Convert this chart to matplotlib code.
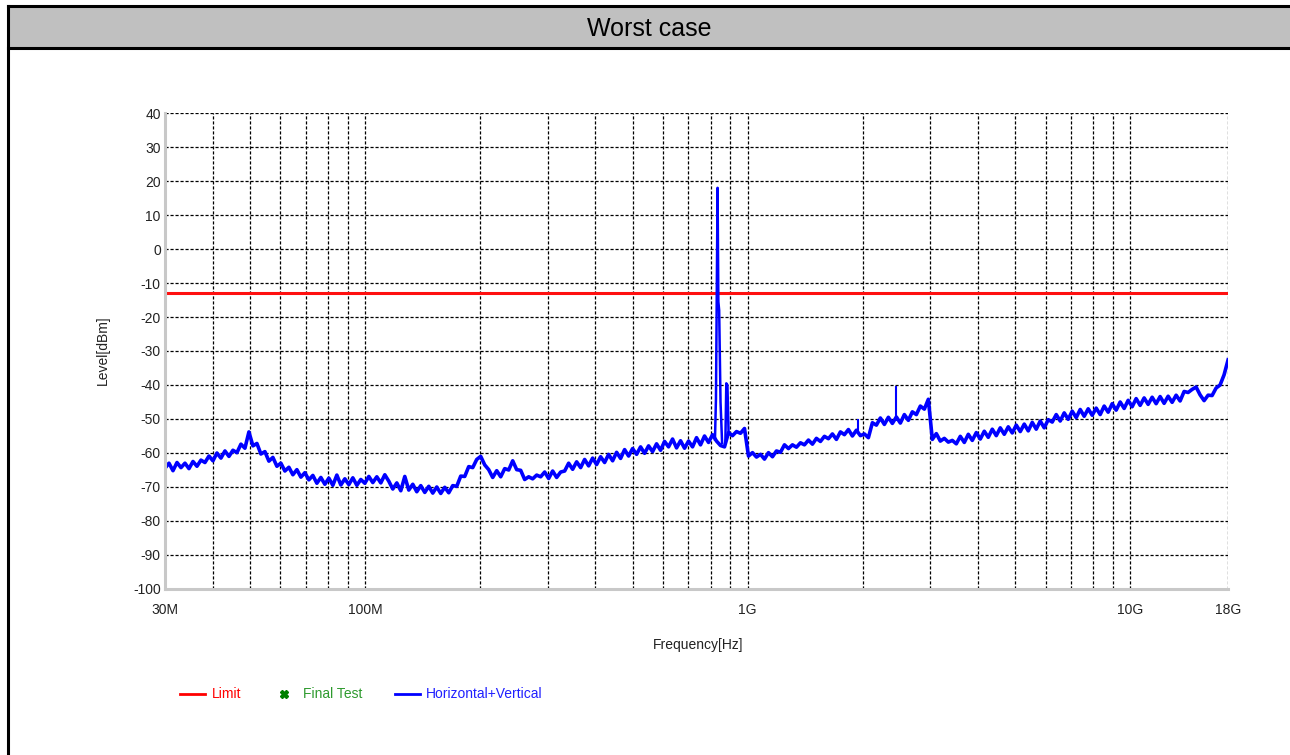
import numpy as np
import matplotlib
matplotlib.use("Agg")
import matplotlib.pyplot as plt
from matplotlib.lines import Line2D
from matplotlib.patches import Rectangle

plt.rcParams["font.family"] = ["Liberation Sans", "DejaVu Sans"]
plt.rcParams["axes.unicode_minus"] = False

title = "Worst case"
x_label = "Frequency[Hz]"
y_label = "Level[dBm]"

f_start = 30e6
f_stop = 18e9
limit_level = -13.0

# measured trace (Horizontal+Vertical), one value per sweep point, log spaced 30M..18G
levels = [
    -64.5, -63.0, -65.2, -62.8, -64.3, -63.0, -64.6, -62.5, -63.9, -62.1,
    -62.8, -60.9, -62.3, -60.0, -61.5, -59.4, -61.0, -59.2, -59.9, -57.4,
    -58.6, -53.8, -57.9, -57.2, -60.3, -59.6, -62.4, -61.3, -63.9, -63.0,
    -65.3, -64.2, -66.4, -64.9, -67.1, -65.8, -67.9, -66.6, -68.9, -67.2,
    -69.2, -67.4, -69.5, -66.5, -69.4, -67.6, -69.3, -67.3, -69.5, -67.8,
    -68.9, -66.9, -68.7, -67.0, -68.8, -66.4, -68.3, -70.6, -68.8, -71.1,
    -66.9, -70.9, -69.2, -71.4, -69.6, -71.6, -69.8, -71.8, -70.0, -71.9,
    -70.1, -71.7, -69.6, -69.8, -66.8, -66.9, -64.0, -64.3, -61.9, -61.0,
    -63.5, -64.9, -67.2, -65.2, -67.0, -64.6, -65.0, -62.3, -64.9, -65.1,
    -67.8, -67.0, -67.6, -66.5, -67.0, -65.6, -67.5, -65.3, -67.2, -65.6,
    -65.3, -63.0, -64.8, -62.6, -64.3, -61.9, -63.8, -61.5, -63.4, -61.1,
    -62.8, -60.4, -62.3, -59.8, -61.6, -59.0, -60.9, -58.7, -60.4, -58.2,
    -60.1, -57.9, -59.6, -57.3, -59.2, -56.6, -58.2, -55.9, -58.5, -56.4,
    -58.6, -56.5, -58.2, -55.5, -57.6, -55.0, -56.9, -54.6, -56.5, -57.8,
    -58.2, -54.0, -54.9, -53.7, -54.2, -52.8, -60.9, -59.9, -61.2, -60.4,
    -61.8, -59.9, -61.1, -59.4, -59.8, -57.6, -58.7, -57.6, -58.3, -57.0,
    -57.6, -56.2, -57.4, -55.7, -56.6, -55.1, -55.8, -54.4, -56.0, -53.8,
    -54.6, -53.1, -55.0, -53.3, -54.9, -54.4, -55.5, -51.1, -51.8, -49.7,
    -51.6, -49.5, -51.3, -49.4, -51.2, -48.7, -50.4, -47.9, -48.7, -46.2,
    -47.1, -44.2, -56.0, -54.3, -56.5, -55.7, -56.8, -56.3, -57.3, -55.1,
    -56.9, -54.5, -56.3, -54.0, -55.9, -53.6, -55.4, -53.0, -54.9, -52.6,
    -54.5, -52.3, -54.1, -51.8, -53.7, -51.5, -53.5, -51.0, -53.0, -50.6,
    -52.6, -50.2, -50.9, -48.7, -50.6, -48.2, -50.1, -47.7, -49.6, -47.2,
    -49.2, -47.0, -48.9, -46.8, -48.7, -46.2, -48.0, -45.5, -47.4, -45.0,
    -46.9, -44.5, -46.4, -44.0, -46.0, -43.8, -45.7, -43.6, -45.5, -43.4,
    -45.4, -43.3, -45.1, -43.0, -44.7, -41.9, -42.2, -41.3, -40.6, -42.9,
    -44.6, -43.0, -43.1, -40.9, -40.0, -37.0, -32.6,
]

# narrow carriers around 835M / 880M (MHz, dBm)
spike1_f = [821, 826, 834, 838, 842, 849, 857]
spike1_l = [-56.0, -44.0, 18.0, -15.5, -18.0, -45.0, -57.0]
spike2_f = [874, 879, 885, 891]
spike2_l = [-57.0, -39.5, -40.0, -54.0]
# single-bin spurs (MHz, base, peak)
spur_f = [1943, 2440]
spur_base = [-54.5, -50.5]
spur_peak = [-50.0, -40.3]

x_ticks = [30e6, 100e6, 1e9, 10e9, 18e9]
x_ticklabels = ["30M", "100M", "1G", "10G", "18G"]
minor_ticks = [m * d for d in (1e7, 1e8, 1e9) for m in range(2, 10) if 30e6 < m * d < 18e9]
y_ticks = list(range(40, -101, -10))

freqs = np.geomspace(f_start, f_stop, len(levels))

fig = plt.figure(figsize=(12.9, 7.55), dpi=100, facecolor="white")

# report frame + header
fig.add_artist(Rectangle((0.0062, 0.9377), 1.0, 0.053, transform=fig.transFigure,
                         facecolor="#C0C0C0", edgecolor="none"))
fig.add_artist(Line2D([0.0062, 1.0], [0.9925, 0.9925], transform=fig.transFigure, color="black", lw=2.2))
fig.add_artist(Line2D([0.0062, 1.0], [0.9364, 0.9364], transform=fig.transFigure, color="black", lw=2.2))
fig.add_artist(Line2D([0.0062, 0.0062], [0.0, 0.9925], transform=fig.transFigure, color="black", lw=2.2))
fig.text(0.503, 0.961, title, ha="center", va="center", fontsize=18, color="black")

ax = fig.add_axes([0.1279, 0.2199, 0.8241, 0.6304])
ax.set_xscale("log")
ax.set_xlim(f_start, f_stop)
ax.set_ylim(-100, 40)

grid_kw = dict(color="black", lw=0.9, ls=(0, (2.5, 1.5)), zorder=1)
for yv in y_ticks:
    ax.axhline(yv, **grid_kw)
for xv in minor_ticks + x_ticks:
    ax.axvline(xv, **grid_kw)

ax.axhline(limit_level, color="#FF1010", lw=2.2, zorder=3)
ax.plot(freqs, levels, color="#0000FF", lw=2.6, zorder=4)
ax.plot(np.array(spike1_f) * 1e6, spike1_l, color="#0000FF", lw=1.8, zorder=4)
ax.plot(np.array(spike2_f) * 1e6, spike2_l, color="#0000FF", lw=1.8, zorder=4)
ax.vlines(np.array(spur_f) * 1e6, spur_base, spur_peak, color="#0000FF", lw=1.5, zorder=4)

ax.set_xticks(x_ticks)
ax.set_xticklabels(x_ticklabels)
ax.set_xticks([], minor=True)
ax.set_yticks(y_ticks)
ax.tick_params(axis="both", length=0, labelsize=10, labelcolor="#222222")
ax.tick_params(axis="x", pad=10)
ax.tick_params(axis="y", pad=3)

for s in ("top", "right"):
    ax.spines[s].set_visible(False)
for s in ("left", "bottom"):
    ax.spines[s].set_color("#C8C8C8")
    ax.spines[s].set_linewidth(2.2)
    ax.spines[s].set_zorder(5)

ax.set_xlabel(x_label, fontsize=10, color="#222222")
ax.set_ylabel(y_label, fontsize=10, color="#222222")
ax.xaxis.set_label_coords(0.5014, -0.103)
ax.yaxis.set_label_coords(-0.0517, 0.502)

# legend row
ly = 0.0808
fig.add_artist(Line2D([0.1395, 0.1589], [ly, ly], transform=fig.transFigure, color="#FF0000", lw=2))
fig.text(0.1643, ly, "Limit", color="#FF0000", fontsize=10, va="center")
fig.add_artist(Line2D([0.2202], [ly], transform=fig.transFigure, color="#008000",
                      marker="X", markersize=6, ls="none"))
fig.text(0.2349, ly, "Final Test", color="#2E9A2E", fontsize=10, va="center")
fig.add_artist(Line2D([0.3062, 0.3256], [ly, ly], transform=fig.transFigure, color="#0000FF", lw=2))
fig.text(0.3302, ly, "Horizontal+Vertical", color="#2020FF", fontsize=10, va="center")

fig.savefig("out.png", dpi=100, facecolor="white")
